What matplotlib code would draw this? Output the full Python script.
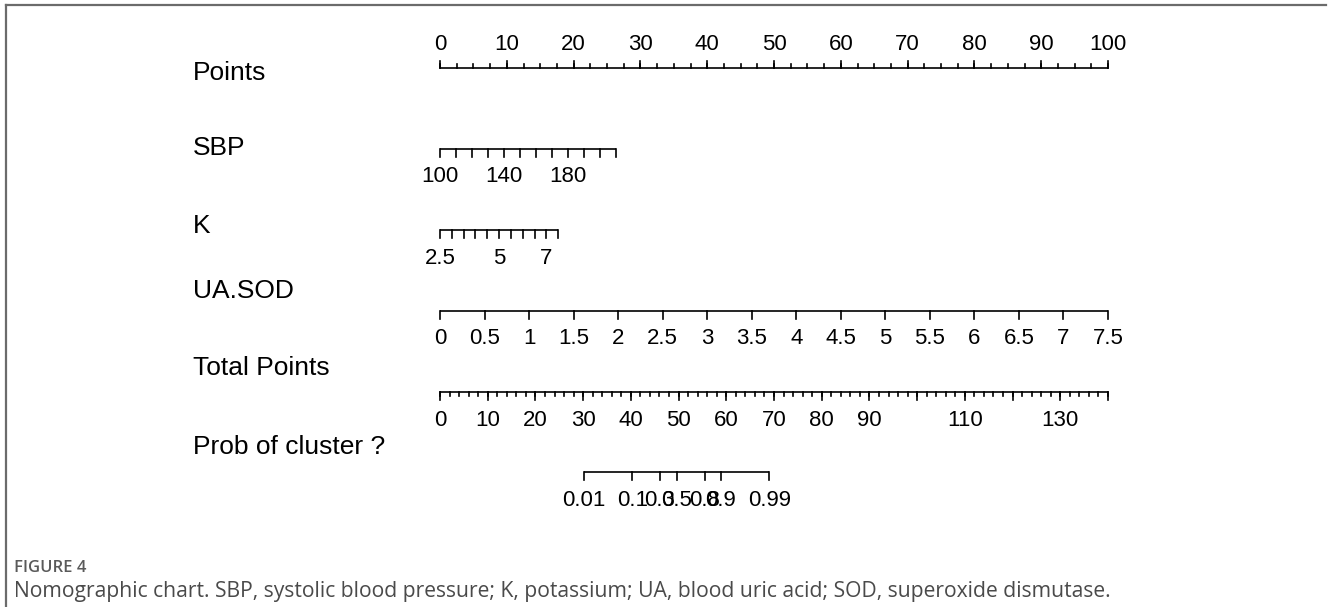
import numpy as np
import matplotlib
matplotlib.use("Agg")
import matplotlib.pyplot as plt
from matplotlib.lines import Line2D
from matplotlib.transforms import blended_transform_factory

# ---- data ----
row_names = ["Points", "SBP", "K", "UA.SOD", "Total Points", "Prob of cluster ?"]

points_major = np.arange(0, 101, 10)
points_minor = np.arange(0, 100.1, 2.5)

sbp_ticks = np.arange(100, 211, 10)
sbp_labels = [100, 140, 180]
sbp_range = (100, 210)
sbp_points = (0.0, 26.3)

k_ticks = np.arange(2.5, 7.51, 0.5)
k_labels = [2.5, 5, 7]
k_range = (2.5, 7.5)
k_points = (0.0, 17.7)

ua_ticks = np.arange(0, 7.51, 0.5)
ua_range = (0, 7.5)
ua_points = (0.0, 100.0)

total_max = 140
total_major = np.arange(0, 141, 10)
total_minor = np.arange(0, 141, 2)
total_labels = [0, 10, 20, 30, 40, 50, 60, 70, 80, 90, 110, 130]

prob_ticks = [0.01, 0.1, 0.3, 0.5, 0.8, 0.9, 0.99]
prob_total = (30.2, 69.0)   # total points at 0.01 and 0.99

# ---- layout (pixels) ----
W, H = 1328, 607
X0, X1 = 440, 1108          # 0 and 100 points
px_per_pt = (X1 - X0) / 100.0
line_y = [68, 149, 230, 311, 392, 472]
name_y = [73, 148, 226, 291, 368, 447]
name_x = 193

fig = plt.figure(figsize=(W / 100, H / 100), dpi=100)
ax = fig.add_axes([0, 0, 1, 1])
ax.set_xlim(-X0 / px_per_pt, (W - X0) / px_per_pt)
ax.set_ylim(H, 0)
ax.axis("off")

FONT = ["Liberation Sans", "DejaVu Sans"]
lab_fs = 19
tick_fs = 16
lw = 1.2
tick_len = 7.5
minor_len = 4


def lin(v, vr, pr):
    return pr[0] + (np.asarray(v, float) - vr[0]) / (vr[1] - vr[0]) * (pr[1] - pr[0])


def draw_axis(y, pos, majors, labels, label_pos, minors=None, up=False):
    s = -1 if up else 1
    pad = 23 if up else 28
    ax.plot([pos[0], pos[-1]], [y, y], color="black", lw=lw, solid_capstyle="butt")
    for p in majors:
        ax.plot([p, p], [y, y + s * tick_len], color="black", lw=lw)
    if minors is not None:
        for p in minors:
            ax.plot([p, p], [y, y + s * minor_len], color="black", lw=lw)
    for p, t in zip(label_pos, labels):
        ax.text(p, y + s * pad, t, ha="center", va="center",
                fontsize=tick_fs, family=FONT)


# Points
draw_axis(line_y[0], points_major, points_major, [str(v) for v in points_major],
          points_major, minors=points_minor, up=True)

# SBP
sp = lin(sbp_ticks, sbp_range, sbp_points)
draw_axis(line_y[1], sp, sp, [str(v) for v in sbp_labels],
          lin(sbp_labels, sbp_range, sbp_points))

# K
kp = lin(k_ticks, k_range, k_points)
draw_axis(line_y[2], kp, kp, [f"{v:g}" for v in k_labels],
          lin(k_labels, k_range, k_points))

# UA.SOD
up_ = lin(ua_ticks, ua_range, ua_points)
draw_axis(line_y[3], up_, up_, [f"{v:g}" for v in ua_ticks], up_)

# Total Points
tp = lin(total_major, (0, total_max), (0, 100))
tm = lin(total_minor, (0, total_max), (0, 100))
draw_axis(line_y[4], tp, tp, [str(v) for v in total_labels],
          lin(total_labels, (0, total_max), (0, 100)), minors=tm)

# Prob of cluster (logit scale against total points)
logit = lambda p: np.log(np.asarray(p) / (1 - np.asarray(p)))
lp = logit(prob_ticks)
pt_total = lin(lp, (lp[0], lp[-1]), prob_total)
pp = lin(pt_total, (0, total_max), (0, 100))
draw_axis(line_y[5], pp, pp, [f"{v:g}" for v in prob_ticks], pp)

# row names
name_tr = blended_transform_factory(fig.transFigure, ax.transData)
for yy, name in zip(name_y, row_names):
    ax.text(name_x / W, yy, name, transform=name_tr,
            ha="left", va="center", fontsize=lab_fs, family=FONT)

# frame around the figure panel
fig.add_artist(Line2D([6 / W, 1 - 2 / W], [1 - 5 / H, 1 - 5 / H], transform=fig.transFigure,
                      color="#6b6b6b", lw=1.6))
fig.add_artist(Line2D([6 / W, 6 / W], [0, 1 - 5 / H], transform=fig.transFigure,
                      color="#6b6b6b", lw=1.6))

# caption
CAP = ["Open Sans", "DejaVu Sans"]
fig.text(14 / W, 1 - 568 / H, "FIGURE 4", ha="left", va="center", fontsize=12,
         color="#5a5a5a", family=CAP, fontweight="semibold")
fig.text(14 / W, 1 - 591 / H,
         "Nomographic chart. SBP, systolic blood pressure; K, potassium; UA, blood uric acid; "
         "SOD, superoxide dismutase.",
         ha="left", va="center", fontsize=15.2, color="#4a4a4a", family=CAP)

fig.savefig("out.png", dpi=100)
